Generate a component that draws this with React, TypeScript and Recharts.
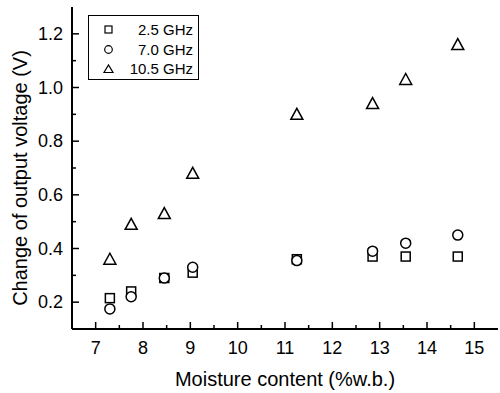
import React from 'react';
import { ScatterChart, Scatter, XAxis, YAxis } from 'recharts';

const moisture = [7.3, 7.75, 8.45, 9.05, 11.25, 12.85, 13.55, 14.65];
const v25 = [0.215, 0.24, 0.29, 0.31, 0.36, 0.37, 0.37, 0.37];
const v70 = [0.175, 0.22, 0.29, 0.33, 0.355, 0.39, 0.42, 0.45];
const v105 = [0.36, 0.49, 0.53, 0.68, 0.9, 0.94, 1.03, 1.16];
const xTicks = [7, 7.5, 8, 8.5, 9, 9.5, 10, 10.5, 11, 11.5, 12, 12.5, 13, 13.5, 14, 14.5, 15];
const yTicks = [0.2, 0.3, 0.4, 0.5, 0.6, 0.7, 0.8, 0.9, 1.0, 1.1, 1.2];
const yMajor = ['0.2', '0.4', '0.6', '0.8', '1.0', '1.2'];
const seriesNames = ['2.5 GHz', '7.0 GHz', '10.5 GHz'];

const d25 = moisture.map((x, i) => ({ x, y: v25[i] }));
const d70 = moisture.map((x, i) => ({ x, y: v70[i] }));
const d105 = moisture.map((x, i) => ({ x, y: v105[i] }));

const FONT = '"Liberation Sans", Arial, sans-serif';

const SquareShape = (p: any) => (
  <rect x={p.cx - 4.5} y={p.cy - 4.5} width={9} height={9} fill="#fff" stroke="#000" strokeWidth={1.5} />
);
const CircleShape = (p: any) => (
  <circle cx={p.cx} cy={p.cy} r={5} fill="#fff" stroke="#000" strokeWidth={1.5} />
);
const TriShape = (p: any) => (
  <polygon points={`${p.cx - 6},${p.cy + 5} ${p.cx + 6},${p.cy + 5} ${p.cx},${p.cy - 6}`} fill="#fff" stroke="#000" strokeWidth={1.5} />
);

const XTick = (p: any) => {
  const v = p.payload.value;
  const major = Number.isInteger(v);
  return (
    <g>
      <line x1={p.x} x2={p.x} y1={p.y} y2={p.y - (major ? 7 : 4)} stroke="#000" strokeWidth={1.5} />
      {major && (
        <text x={p.x} y={p.y + 25} textAnchor="middle" fontSize={18} fontFamily={FONT} fill="#000">{v}</text>
      )}
    </g>
  );
};

const YTick = (p: any) => {
  const v = p.payload.value;
  const label = v.toFixed(1);
  const major = yMajor.includes(label);
  return (
    <g>
      <line x1={p.x} x2={p.x + (major ? 7 : 4)} y1={p.y} y2={p.y} stroke="#000" strokeWidth={1.5} />
      {major && (
        <text x={p.x - 9} y={p.y + 6} textAnchor="end" fontSize={18} fontFamily={FONT} fill="#000">{label}</text>
      )}
    </g>
  );
};

const YLabel = () => (
  <text x={20} y={178} transform="rotate(-90, 20, 178)" textAnchor="middle" dominantBaseline="central" fontSize={20} fontFamily={FONT} fill="#000">
    Change of output voltage (V)
  </text>
);

const LegendBox = () => {
  const icons = [
    <rect x={3} y={3} width={7} height={7} fill="#fff" stroke="#000" strokeWidth={1.2} />,
    <circle cx={6.5} cy={6.5} r={3.8} fill="#fff" stroke="#000" strokeWidth={1.2} />,
    <polygon points="2,10.5 11,10.5 6.5,3" fill="#fff" stroke="#000" strokeWidth={1.2} />,
  ];
  return (
    <div style={{ position: 'absolute', left: 88, top: 15, boxSizing: 'border-box', border: '1.5px solid #000', background: '#fff', width: 111, height: 65, padding: '4px 0 0 0', fontFamily: FONT, fontSize: 15 }}>
      {seriesNames.map((n, i) => (
        <div key={n} style={{ display: 'flex', alignItems: 'center', height: 19.5 }}>
          <svg width={13} height={13} style={{ marginLeft: 13 }}>{icons[i]}</svg>
          <span style={{ marginLeft: 'auto', marginRight: 5 }}>{n}</span>
        </div>
      ))}
    </div>
  );
};

export default function App() {
  return (
    <div style={{ position: 'absolute', left: 0, top: 0, width: 500, height: 393, background: '#fff' }}>
      <ScatterChart width={500} height={393} margin={{ top: 7, right: 2, bottom: 0, left: 0 }}>
        <XAxis
          type="number"
          dataKey="x"
          domain={[6.5, 15.5]}
          ticks={xTicks}
          interval={0}
          tickSize={0}
          tickMargin={0}
          tick={<XTick />}
          height={64}
          axisLine={{ stroke: '#000', strokeWidth: 2 }}
          label={{ value: 'Moisture content (%w.b.)', position: 'insideBottom', offset: 7, fontSize: 20, fontFamily: FONT, fill: '#000' }}
        />
        <XAxis xAxisId="top" orientation="top" type="number" domain={[6.5, 15.5]} tick={false} tickLine={false} height={0} axisLine={{ stroke: '#000', strokeWidth: 2 }} />
        <YAxis
          type="number"
          dataKey="y"
          domain={[0.1, 1.3]}
          ticks={yTicks}
          interval={0}
          tickSize={0}
          tickMargin={0}
          tick={<YTick />}
          width={72}
          axisLine={{ stroke: '#000', strokeWidth: 2 }}
          label={<YLabel />}
        />
        <YAxis yAxisId="right" orientation="right" type="number" domain={[0.1, 1.3]} tick={false} tickLine={false} width={0} axisLine={{ stroke: '#bbb', strokeWidth: 1 }} />
        <Scatter name={seriesNames[0]} data={d25} shape={<SquareShape />} isAnimationActive={false} />
        <Scatter name={seriesNames[1]} data={d70} shape={<CircleShape />} isAnimationActive={false} />
        <Scatter name={seriesNames[2]} data={d105} shape={<TriShape />} isAnimationActive={false} />
      </ScatterChart>
      <LegendBox />
    </div>
  );
}
